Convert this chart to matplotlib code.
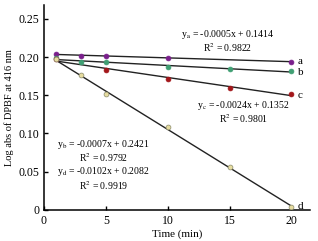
import matplotlib
matplotlib.use("Agg")
import matplotlib.pyplot as plt
import numpy as np

plt.rcParams['font.family'] = ['Liberation Serif', 'DejaVu Serif']
plt.rcParams['mathtext.fontset'] = 'stix'

time_a = [1, 3, 5, 10, 20]
abs_a = [0.204, 0.202, 0.201, 0.199, 0.194]
time_b = [1, 3, 5, 10, 15, 20]
abs_b = [0.199, 0.194, 0.193, 0.187, 0.184, 0.182]
time_c = [1, 5, 10, 15, 20]
abs_c = [0.198, 0.183, 0.171, 0.160, 0.152]
time_d = [1, 3, 5, 10, 15, 20]
abs_d = [0.197, 0.176, 0.151, 0.108, 0.056, 0.004]

series = [
    ("a", time_a, abs_a, "#7a1f8c", "#7a1f8c"),
    ("b", time_b, abs_b, "#3f9f73", "#3f9f73"),
    ("c", time_c, abs_c, "#a3161a", "#a3161a"),
    ("d", time_d, abs_d, "#e6dca0", "#8a8a6a"),
]

fig = plt.figure(figsize=(3.18, 2.41), dpi=100)
ax = fig.add_axes([0.138, 0.129, 0.837, 0.85])

for name, t, y, fc, ec in series:
    k, b = np.polyfit(t, y, 1)
    xs = np.array([1, 20])
    ax.plot(xs, k * xs + b, color="#222222", lw=1.0, zorder=2)
    ax.plot(t, y, "o", ms=3.5, mfc=fc, mec=ec, mew=0.5, zorder=3)
    ax.text(20.5, k * 20 + b, name, fontsize=8, va="center", ha="left")

eq_kw = dict(fontsize=7, ha="center", va="center", linespacing=1.05)
ax.text(14.8, 0.221, "y$_{\\rm a}$ = -0.0005x + 0.1414\nR$^{2}$ = 0.9822", **eq_kw)
ax.text(16.1, 0.128, "y$_{\\rm c}$ = -0.0024x + 0.1352\nR$^{2}$ = 0.9801", **eq_kw)
ax.text(4.8, 0.077, "y$_{\\rm b}$ = -0.0007x + 0.2421\nR$^{2}$ = 0.9792", **eq_kw)
ax.text(4.8, 0.041, "y$_{\\rm d}$ = -0.0102x + 0.2082\nR$^{2}$ = 0.9919", **eq_kw)

ax.set_xlim(0, 21.5)
ax.set_ylim(0, 0.268)
ax.set_xticks([0, 5, 10, 15, 20])
ax.set_yticks([0, 0.05, 0.10, 0.15, 0.20, 0.25])
ax.set_yticklabels(["0", "0.05", "0.10", "0.15", "0.20", "0.25"])
ax.tick_params(direction="in", length=3, width=1.0, labelsize=8.5)
for s in ["left", "bottom"]:
    ax.spines[s].set_linewidth(1.1)
ax.spines["top"].set_visible(False)
ax.spines["right"].set_visible(False)
ax.set_xlabel("Time (min)", fontsize=8, labelpad=2)
ax.set_ylabel("Log abs of DPBF at 416 nm", fontsize=7.5, labelpad=3)

fig.savefig("out.png", dpi=100)
